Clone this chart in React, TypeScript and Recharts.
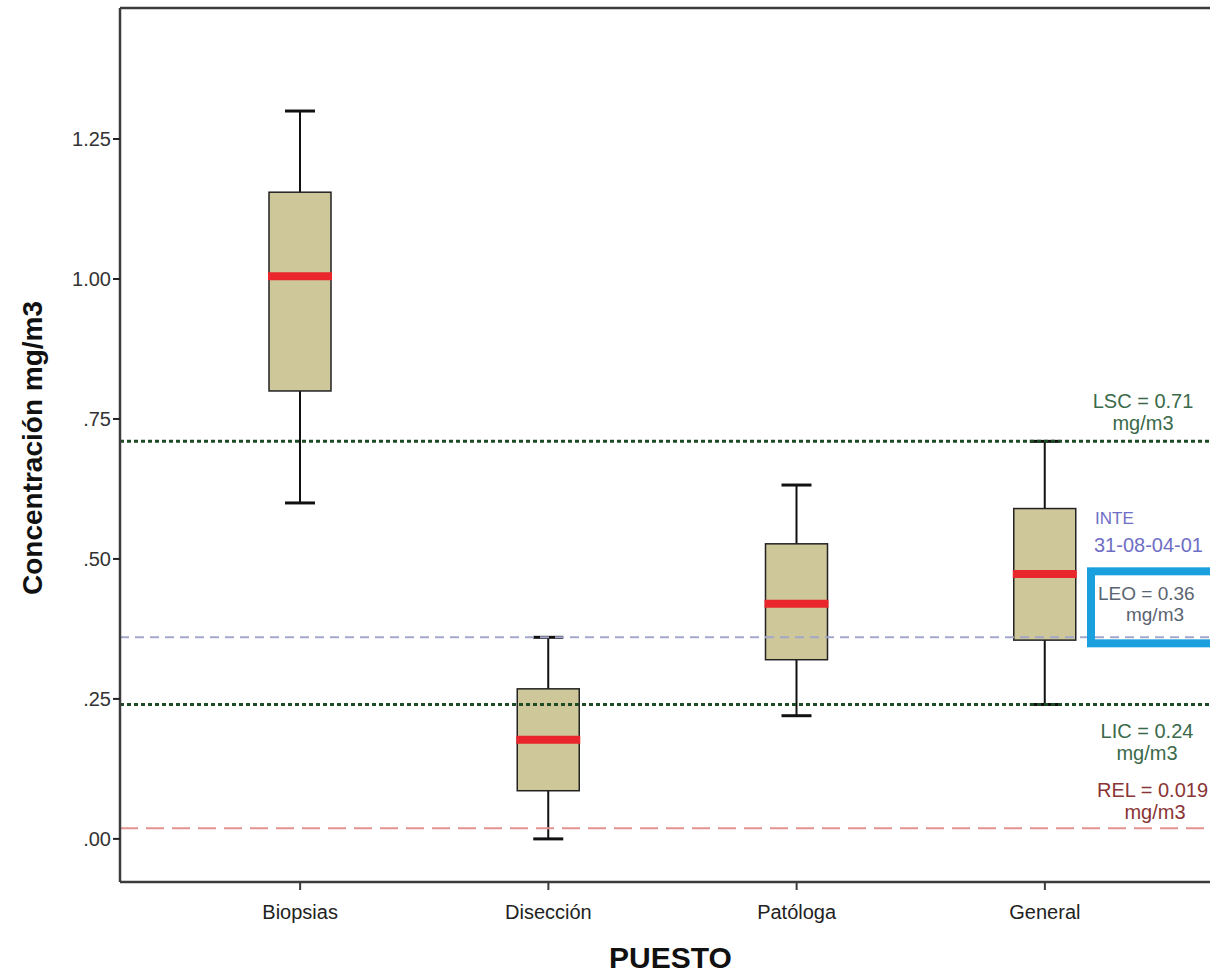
import { Bar, ComposedChart, ReferenceLine, XAxis, YAxis } from 'recharts'

const puestos = ['Biopsias', 'Disección', 'Patóloga', 'General']
const minimos = [0.6, 0.0, 0.22, 0.24]
const cuartil1 = [0.8, 0.086, 0.32, 0.355]
const medianas = [1.005, 0.177, 0.42, 0.473]
const cuartil3 = [1.155, 0.268, 0.527, 0.59]
const maximos = [1.3, 0.36, 0.632, 0.71]
const yTicks = [0, 0.25, 0.5, 0.75, 1, 1.25]
const yDominio = [-0.077, 1.484]

const limiteNombres = ['LSC', 'LEO', 'LIC', 'REL']
const limiteValores = [0.71, 0.36, 0.24, 0.019]

const data = puestos.map((p, i) => ({
  puesto: p,
  min: minimos[i],
  q1: cuartil1[i],
  med: medianas[i],
  q3: cuartil3[i],
  max: maximos[i],
}))

const FONT = '"Liberation Sans", Arial, sans-serif'
const fmt = (v: number) => (v < 1 ? v.toFixed(2).replace(/^0/, '') : v.toFixed(2))

// range bar [min, max]; pixel mapping taken from the bar's own y/height
function BoxShape(props: any) {
  const { x, y, width, height, payload } = props
  if (!payload || !height) return null
  const ppu = height / (payload.max - payload.min)
  const py = (v: number) => y + (payload.max - v) * ppu
  const cx = x + width / 2
  const cap = 15
  return (
    <g>
      <line x1={cx} x2={cx} y1={py(payload.max)} y2={py(payload.q3)} stroke="#111" strokeWidth={2} />
      <line x1={cx} x2={cx} y1={py(payload.q1)} y2={py(payload.min)} stroke="#111" strokeWidth={2} />
      <line x1={cx - cap} x2={cx + cap} y1={py(payload.max)} y2={py(payload.max)} stroke="#111" strokeWidth={3} />
      <line x1={cx - cap} x2={cx + cap} y1={py(payload.min)} y2={py(payload.min)} stroke="#111" strokeWidth={3} />
      <rect
        x={x}
        y={py(payload.q3)}
        width={width}
        height={py(payload.q1) - py(payload.q3)}
        fill="#cdc799"
        stroke="#222"
        strokeWidth={1.5}
      />
      <line x1={x - 1} x2={x + width + 1} y1={py(payload.med)} y2={py(payload.med)} stroke="#e8262b" strokeWidth={8} />
    </g>
  )
}

const green = '#3a6a4a'

function LimiteLabel({ viewBox, nombre, valor }: any) {
  if (!viewBox) return null
  const right = viewBox.x + viewBox.width
  const ly = viewBox.y
  const t = { fontFamily: FONT, fontSize: 20, dominantBaseline: 'central' as const }
  if (nombre === 'LSC' || nombre === 'LIC') {
    const a = nombre === 'LSC' ? -40 : 26
    const dx = nombre === 'LSC' ? 82 : 78
    return (
      <g fill={green} {...t}>
        <text x={right - dx} y={ly + a} textAnchor="middle">{`${nombre} = ${valor}`}</text>
        <text x={right - dx} y={ly + a + 22} textAnchor="middle">mg/m3</text>
      </g>
    )
  }
  if (nombre === 'REL') {
    return (
      <g fill="#8a3535" {...t}>
        <text x={right - 128} y={ly - 38} textAnchor="start">{`${nombre} = ${valor}`}</text>
        <text x={right - 70} y={ly - 16} textAnchor="middle">mg/m3</text>
      </g>
    )
  }
  return (
    <g {...t}>
      <text x={right - 130} y={ly - 119} fill="#6e6ec4" fontSize={17}>INTE</text>
      <text x={right - 131} y={ly - 92} fill="#6e6ec4">31-08-04-01</text>
      <rect x={right - 134} y={ly - 66} width={150} height={72} fill="none" stroke="#1aa0de" strokeWidth={8} />
      <text x={right - 127} y={ly - 44} fill="#5a6470" fontSize={19}>{`${nombre} = ${valor}`}</text>
      <text x={right - 70} y={ly - 23} fill="#5a6470" fontSize={19} textAnchor="middle">mg/m3</text>
    </g>
  )
}

const limiteEstilo: Record<string, { stroke: string; dash: string; width: number }> = {
  LSC: { stroke: '#1e4a26', dash: '4 3', width: 3 },
  LIC: { stroke: '#1e4a26', dash: '4 3', width: 3 },
  LEO: { stroke: '#a3a7c9', dash: '9 6', width: 2 },
  REL: { stroke: '#e3938f', dash: '18 8', width: 2 },
}

export default function App() {
  return (
    <div style={{ position: 'fixed', left: 0, top: 0, width: 1210, height: 973, overflow: 'hidden', background: '#fff' }}>
      <ComposedChart width={1240} height={973} data={data} margin={{ top: 8, right: 15, bottom: 0, left: 0 }}>
        <XAxis
          dataKey="puesto"
          height={91}
          padding={{ left: 56, right: 56 }}
          axisLine={{ stroke: '#3c3c3c', strokeWidth: 2.5 }}
          tickLine={{ stroke: '#3c3c3c', strokeWidth: 2 }}
          tickSize={8}
          tickMargin={15}
          tick={{ fill: '#222', fontSize: 20, fontFamily: FONT }}
          label={({ viewBox }: any) => (
            <text
              x={viewBox.x + viewBox.width / 2 - 2}
              y={viewBox.y + 86}
              textAnchor="middle"
              fontFamily={FONT}
              fontSize={30}
              fontWeight="bold"
              fill="#111"
            >
              PUESTO
            </text>
          )}
        />
        <YAxis
          width={120}
          domain={yDominio}
          ticks={yTicks}
          tickFormatter={fmt}
          allowDataOverflow
          axisLine={{ stroke: '#3c3c3c', strokeWidth: 2.5 }}
          tickLine={{ stroke: '#222', strokeWidth: 2 }}
          tickSize={7}
          tickMargin={2}
          tick={{ fill: '#333', fontSize: 20, fontFamily: FONT }}
          label={({ viewBox }: any) => {
            const cy = viewBox.y + viewBox.height / 2 + 3
            return (
              <text
                x={42}
                y={cy}
                transform={`rotate(-90 42 ${cy})`}
                textAnchor="middle"
                fontFamily={FONT}
                fontSize={28}
                fontWeight="bold"
                fill="#111"
              >
                Concentración mg/m3
              </text>
            )
          }}
        />
        {/* top edge of the frame */}
        <ReferenceLine y={yDominio[1]} stroke="#3c3c3c" strokeWidth={2.5} />
        {limiteNombres.map((n, i) => (
          <ReferenceLine
            key={n}
            y={limiteValores[i]}
            stroke={limiteEstilo[n].stroke}
            strokeDasharray={limiteEstilo[n].dash}
            strokeWidth={limiteEstilo[n].width}
            label={(p: any) => <LimiteLabel {...p} nombre={n} valor={limiteValores[i]} />}
          />
        ))}
        <Bar
          dataKey={(d: any) => [d.min, d.max]}
          barSize={62}
          shape={BoxShape}
          isAnimationActive={false}
        />
      </ComposedChart>
    </div>
  )
}
